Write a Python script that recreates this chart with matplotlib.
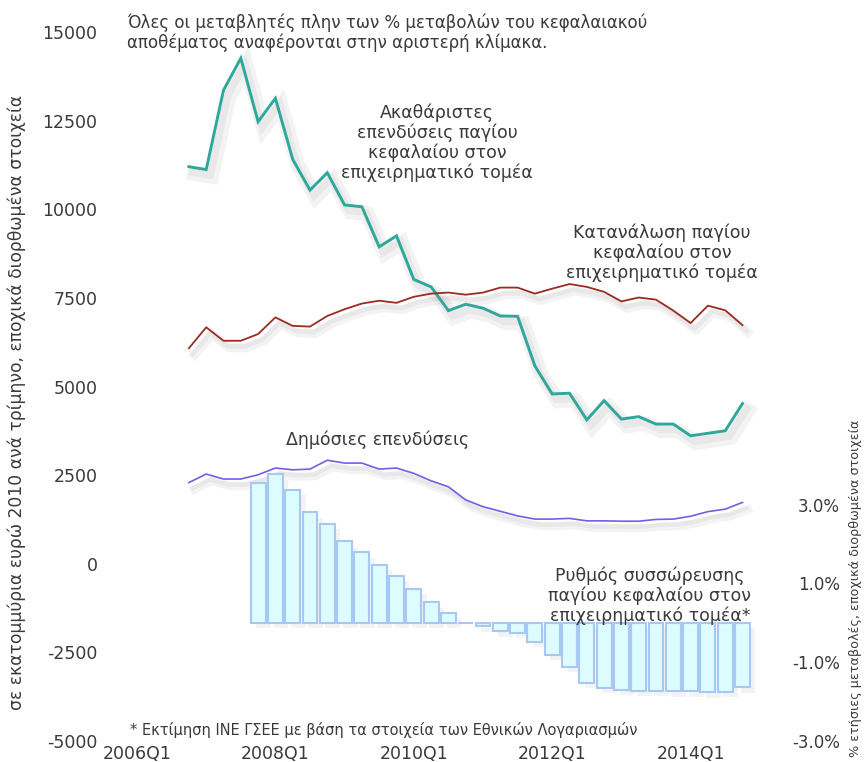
import matplotlib
matplotlib.use("Agg")
import matplotlib.pyplot as plt
import matplotlib.patheffects as pe
import numpy as np

# ---------------- data ----------------
quarters = [f"{y}Q{q}" for y in range(2006, 2015) for q in range(1, 5)]
tick_labels = ["2006Q1", "2008Q1", "2010Q1", "2012Q1", "2014Q1"]

line_start = "2006Q4"
gross_investment = [11200, 11120, 13360, 14260, 12470, 13130, 11410, 10540, 11030,
                    10120, 10070, 8940, 9250, 8020, 7810, 7140, 7320, 7210, 6990,
                    6980, 5580, 4790, 4810, 4060, 4600, 4080, 4150, 3940, 3940,
                    3610, 3680, 3750, 4520]
capital_consumption = [6080, 6670, 6290, 6290, 6480, 6950, 6710, 6690, 6990, 7180,
                       7340, 7420, 7360, 7530, 7620, 7650, 7590, 7650, 7790, 7790,
                       7620, 7760, 7890, 7810, 7670, 7400, 7510, 7450, 7140, 6790,
                       7280, 7150, 6730]
public_investment = [2290, 2530, 2390, 2390, 2510, 2700, 2650, 2670, 2920, 2840,
                     2840, 2670, 2700, 2550, 2340, 2170, 1800, 1610, 1480, 1350,
                     1260, 1260, 1280, 1210, 1210, 1200, 1200, 1250, 1260, 1340,
                     1470, 1540, 1730]

bar_start = "2007Q4"
accumulation_rate = [3.55, 3.77, 3.38, 2.81, 2.52, 2.07, 1.79, 1.48, 1.20, 0.87,
                     0.53, 0.26, 0.0, -0.08, -0.21, -0.25, -0.48, -0.81, -1.11,
                     -1.52, -1.65, -1.70, -1.72, -1.72, -1.73, -1.73, -1.76, -1.75,
                     -1.64]

left_ticks = [-5000, -2500, 0, 2500, 5000, 7500, 10000, 12500, 15000]
right_ticks = [-3.0, -1.0, 1.0, 3.0]

# ---------------- figure ----------------
W, H = 866, 762
fig = plt.figure(figsize=(W / 100, H / 100), dpi=100)
L, R, B, T = 110, 790, 741, 32
ax = fig.add_axes([L / W, 1 - B / H, (R - L) / W, (B - T) / H])
ax2 = ax.twinx()

txt = "#3a3a3a"

x_line = quarters.index(line_start) + np.arange(len(gross_investment))
x_bar = quarters.index(bar_start) + np.arange(len(accumulation_rate))

def shadow(lw):
    return [pe.SimpleLineShadow(offset=(4, -5), shadow_color="0.55", alpha=0.10,
                                linewidth=lw * 5),
            pe.SimpleLineShadow(offset=(3, -4), shadow_color="0.55", alpha=0.10,
                                linewidth=lw * 2.5),
            pe.Normal()]

ax.plot(x_line, gross_investment, color="#2fa89c", lw=2.1, solid_joinstyle="miter",
        path_effects=shadow(2.1), zorder=3)
ax.plot(x_line, capital_consumption, color="#9c2b22", lw=1.3,
        path_effects=shadow(1.3), zorder=3)
ax.plot(x_line, public_investment, color="#7b5ae6", lw=1.2,
        path_effects=shadow(1.2), zorder=3)

bars = ax2.bar(x_bar, accumulation_rate, width=0.86, color="#dcfcff",
               edgecolor="#a8c8f4", linewidth=1.5, zorder=2)
for b in bars:
    b.set_path_effects([pe.SimplePatchShadow(offset=(4, -4), shadow_rgbFace="0.55",
                                             alpha=0.10), pe.Normal()])

# axes scales
x0 = (L - 137) / 17.3
x1 = (R - 137) / 17.3
ax.set_xlim(x0, x1)
ax.set_ylim(-5000, 15000)
ax2.set_ylim(-3, 15)

ax.set_xticks([quarters.index(t) for t in tick_labels])
ax.set_xticklabels(tick_labels, fontsize=12.5, color=txt)
ax.set_yticks(left_ticks)
ax.set_yticklabels([str(v) for v in left_ticks], fontsize=12.5, color=txt)
ax2.set_yticks(right_ticks)
ax2.set_yticklabels([f"{v:.1f}%" for v in right_ticks], fontsize=12, color=txt,
                    ha="right")

ax.tick_params(axis="x", length=0, pad=3)
ax.tick_params(axis="y", length=0, pad=9)
ax2.tick_params(axis="y", length=0, pad=36)

for a in (ax, ax2):
    for s in a.spines.values():
        s.set_visible(False)
    a.patch.set_visible(False)

def ftext(x, y, s, **kw):
    fig.text(x / W, 1 - y / H, s, color=txt, **kw)

ftext(127, 33, "Όλες οι μεταβλητές πλην των % μεταβολών του κεφαλαιακού\n"
               "αποθέματος αναφέρονται στην αριστερή κλίμακα.",
      fontsize=12, ha="left", va="center", linespacing=1.1)
ftext(437, 143, "Ακαθάριστες\nεπενδύσεις παγίου\nκεφαλαίου στον\nεπιχειρηματικό τομέα",
      fontsize=12.5, ha="center", va="center", linespacing=1.1)
ftext(662, 253, "Κατανάλωση παγίου\nκεφαλαίου στον\nεπιχειρηματικό τομέα",
      fontsize=12.5, ha="center", va="center", linespacing=1.1)
ftext(378, 440, "Δημόσιες επενδύσεις", fontsize=12.5, ha="center", va="center")
ftext(650, 596, "Ρυθμός συσσώρευσης\nπαγίου κεφαλαίου στον\nεπιχειρηματικό τομέα*",
      fontsize=12.5, ha="center", va="center", linespacing=1.1)
ftext(130, 730, "* Εκτίμηση ΙΝΕ ΓΣΕΕ με βάση τα στοιχεία των Εθνικών Λογαριασμών",
      fontsize=10.5, ha="left", va="center")
ftext(17, 402, "σε εκατομμύρια ευρώ 2010 ανά τρίμηνο, εποχικά διορθωμένα στοιχεία",
      fontsize=12.3, ha="center", va="center", rotation=90)
ftext(855, 588, "% ετήσιες μεταβολές, εποχικά διορθωμένα στοιχεία",
      fontsize=9.2, ha="center", va="center", rotation=90)

fig.savefig("out.png", dpi=100, facecolor="white")
